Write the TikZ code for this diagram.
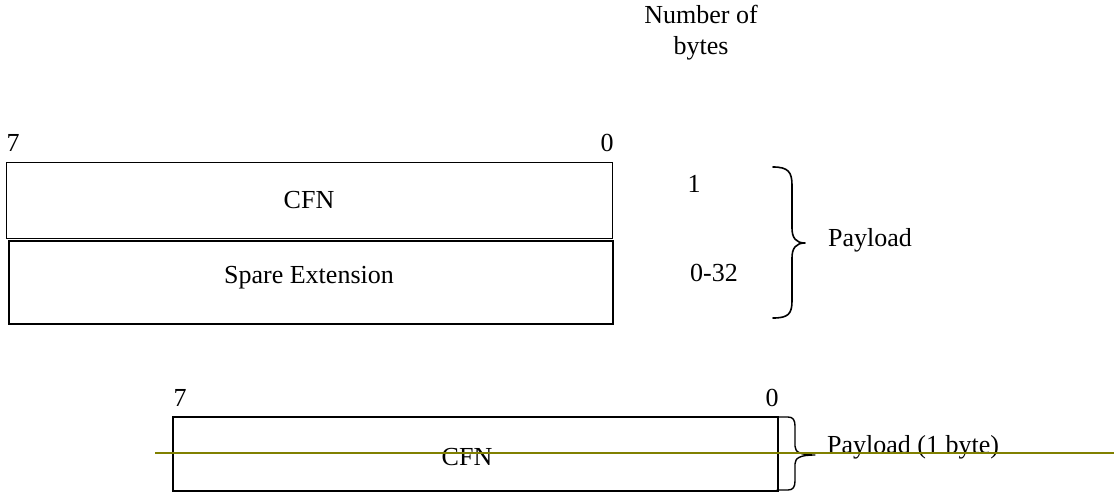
\documentclass[tikz,border=0pt]{standalone}
\usepackage{fontspec}
\setmainfont{Liberation Serif}
\begin{document}
\begin{tikzpicture}[x=1pt,y=-1pt,
  txt/.style={font=\fontsize{26}{31}\selectfont, inner sep=0pt, align=center},
  field/.style={draw, anchor=north west, inner sep=0pt},
  bracepath/.style={draw, line width=1.6pt, line cap=round, line join=round},
  olivestroke/.style={draw=olivec, line width=2.2pt}]
\definecolor{olivec}{RGB}{128,128,0}
\useasboundingbox (0,0) rectangle (1114,492);

% header
\node[txt] (hdr) at (701,33) {Number of\\bytes};

% upper diagram
\node[txt] (b7a) at (13,143) {7};
\node[txt] (b0a) at (607,143) {0};
\node[field, line width=1.2pt, minimum width=606pt, minimum height=76pt] (cfn1) at (6,162) {};
\node[field, line width=1.8pt, minimum width=604pt, minimum height=83pt] (spare) at (8,240) {};
\node[txt] (cfn1t) at (309,200) {CFN};
\node[txt] (sparet) at (309,278) {Spare Extension};
\node[txt] (n1) at (694,184) {1};
\node[txt] (n032) at (714,273) {0-32};

% big brace
\coordinate (bt) at (773,167);
\coordinate (bm) at (805,243);
\coordinate (bb) at (773,318);
\path[bracepath] (bt) .. controls (788,167) and (792,172) .. (792,185)
  -- (792,228) .. controls (792,238) and (796,243) .. (bm)
  .. controls (796,243) and (792,248) .. (792,258)
  -- (792,301) .. controls (792,314) and (788,318) .. (bb);
\node[txt, anchor=west] (pl) at (828,240) {Payload};

% lower diagram
\node[txt] (b7b) at (180,398) {7};
\node[txt] (b0b) at (772,398) {0};
\node[field, line width=1.5pt, minimum width=605pt, minimum height=74pt] (cfn2) at (172,416) {};
\node[txt] (cfn2t) at (467,457) {CFN};

% small brace
\coordinate (st) at (777,417);
\coordinate (sm) at (815,455);
\coordinate (sb) at (777,490);
\path[bracepath, line width=1.4pt] (st) -- (788,417) .. controls (793,417) and (795,420) .. (795,426)
  -- (795,446) .. controls (795,452) and (800,455) .. (sm)
  .. controls (800,455) and (795,458) .. (795,464)
  -- (795,481) .. controls (795,487) and (793,490) .. (788,490) -- (sb);
\node[txt, anchor=west] (pl1) at (827,447) {Payload (1 byte)};

% olive line
\coordinate (ola) at (155,453);
\coordinate (olb) at (1114,453);
\path[olivestroke] (ola) -- (olb);
\end{tikzpicture}
\end{document}
